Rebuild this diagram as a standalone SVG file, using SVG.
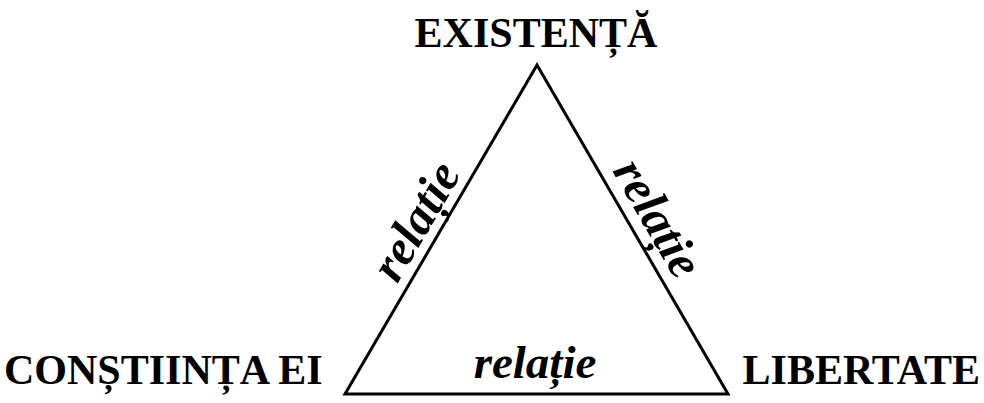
<svg xmlns="http://www.w3.org/2000/svg" width="984" height="403" viewBox="0 0 984 403">
  <style>
    .title { font-family: "Liberation Serif", "Times New Roman", serif; font-weight: bold; font-size: 42px; fill: #000; }
    .rel { font-family: "Liberation Serif", "Times New Roman", serif; font-weight: bold; font-style: italic; font-size: 47px; fill: #000; }
    .side { font-size: 49px; }
    .edge { fill: none; stroke: #000; stroke-width: 3; stroke-linejoin: miter; }
  </style>
  <rect width="984" height="403" fill="#fff"/>
  <g id="connectors">
    <polygon class="edge" points="537,65 345,394 728,394"/>
    <text class="rel side" text-anchor="middle" transform="translate(429.5,229) rotate(-59.74)">relație</text>
    <text class="rel side" text-anchor="middle" transform="translate(644,226) rotate(59.86)">relație</text>
    <text class="rel" x="535" y="378" text-anchor="middle">relație</text>
  </g>
  <g id="node-existenta">
    <text class="title" x="536" y="47" text-anchor="middle">EXISTENȚĂ</text>
  </g>
  <g id="node-constiinta">
    <text class="title" x="4" y="384">CONȘTIINȚA EI</text>
  </g>
  <g id="node-libertate">
    <text class="title" x="980" y="384" text-anchor="end">LIBERTATE</text>
  </g>
</svg>
